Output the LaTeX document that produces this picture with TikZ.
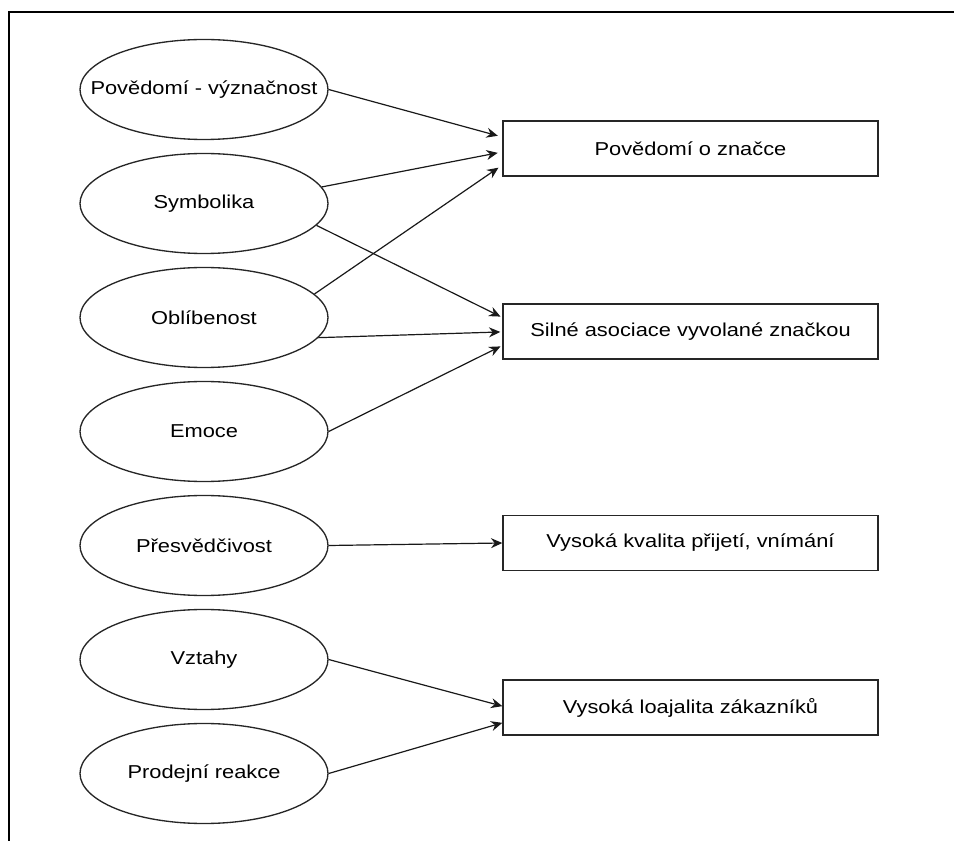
\documentclass[tikz,border=0pt]{standalone}
\usepackage{fontspec}
\usetikzlibrary{arrows.meta,shapes.geometric}
\newfontfamily\labelfont[FakeStretch=1.17]{Liberation Sans}
% label of zero width, so the ellipse keeps its set size
\newcommand\flatlabel[1]{\makebox[0pt]{#1}}
\begin{document}
\begin{tikzpicture}[x=0.75pt,y=-0.75pt,
  oval/.style={draw=black!85, line width=1pt, ellipse, inner sep=0pt,
    minimum width=186pt, minimum height=75pt, font=\labelfont\fontsize{14}{16}\selectfont},
  result/.style={draw=black!85, line width=1pt, rectangle, inner sep=0pt,
    minimum width=281.25pt, minimum height=41.25pt, font=\labelfont\fontsize{14}{16}\selectfont},
  link/.style={draw=black!90, line width=0.9pt, -{Stealth[length=8.5pt,width=7.5pt,inset=2.8pt]}},
  frameline/.style={draw=black, line width=1.1pt}]
\useasboundingbox (0,0) rectangle (954,841);

% outer frame (top and left edges only)
\coordinate (fl) at (9,841);
\coordinate (ftl) at (9,12);
\coordinate (ftr) at (954,12);
\draw[frameline] (fl) -- (ftl) -- (ftr);

% factors
\node[oval] (e1) at (204,89.5)  {\flatlabel{Povědomí - význačnost}};
\node[oval] (e2) at (204,203.5) {\flatlabel{Symbolika}};
\node[oval] (e3) at (204,317.5) {\flatlabel{Oblíbenost}};
\node[oval] (e4) at (204,431.5) {\flatlabel{Emoce}};
\node[oval] (e5) at (204,545.5) {\flatlabel{Přesvědčivost}};
\node[oval] (e6) at (204,659.5) {\flatlabel{Vztahy}};
\node[oval] (e7) at (204,773.5) {\flatlabel{Prodejní reakce}};

% outcomes
\node[result] (b1) at (690.5,148.5) {Povědomí o značce};
\node[result] (b2) at (690.5,331.5) {Silné asociace vyvolané značkou};
\node[result] (b3) at (690.5,543)   {Vysoká kvalita přijetí, vnímání};
\node[result] (b4) at (690.5,707.5) {Vysoká loajalita zákazníků};

% connectors
\draw[link, shorten >=3.5pt] (e1.east) -- ([yshift=8.6pt]b1.west);
\draw[link, shorten >=3.5pt] (e2.8.7) -- ([yshift=-2.6pt]b1.west);
\draw[link, shorten >=3.5pt] (e3.12.4) -- ([yshift=-12.4pt]b1.west);

\draw[link, shorten >=1.5pt] (e2.-11.5) -- ([yshift=10.5pt]b2.west);
\draw[link, shorten >=1.5pt] (e3.-10.5) -- ([yshift=-0.3pt]b2.west);
\draw[link, shorten >=1.5pt] (e4.east) -- ([yshift=-10.5pt]b2.west);

\draw[link] (e5.east) -- (b3.west);

\draw[link] (e6.east) -- ([yshift=1pt]b4.west);
\draw[link] (e7.east) -- ([yshift=-11.5pt]b4.west);
\end{tikzpicture}
\end{document}
